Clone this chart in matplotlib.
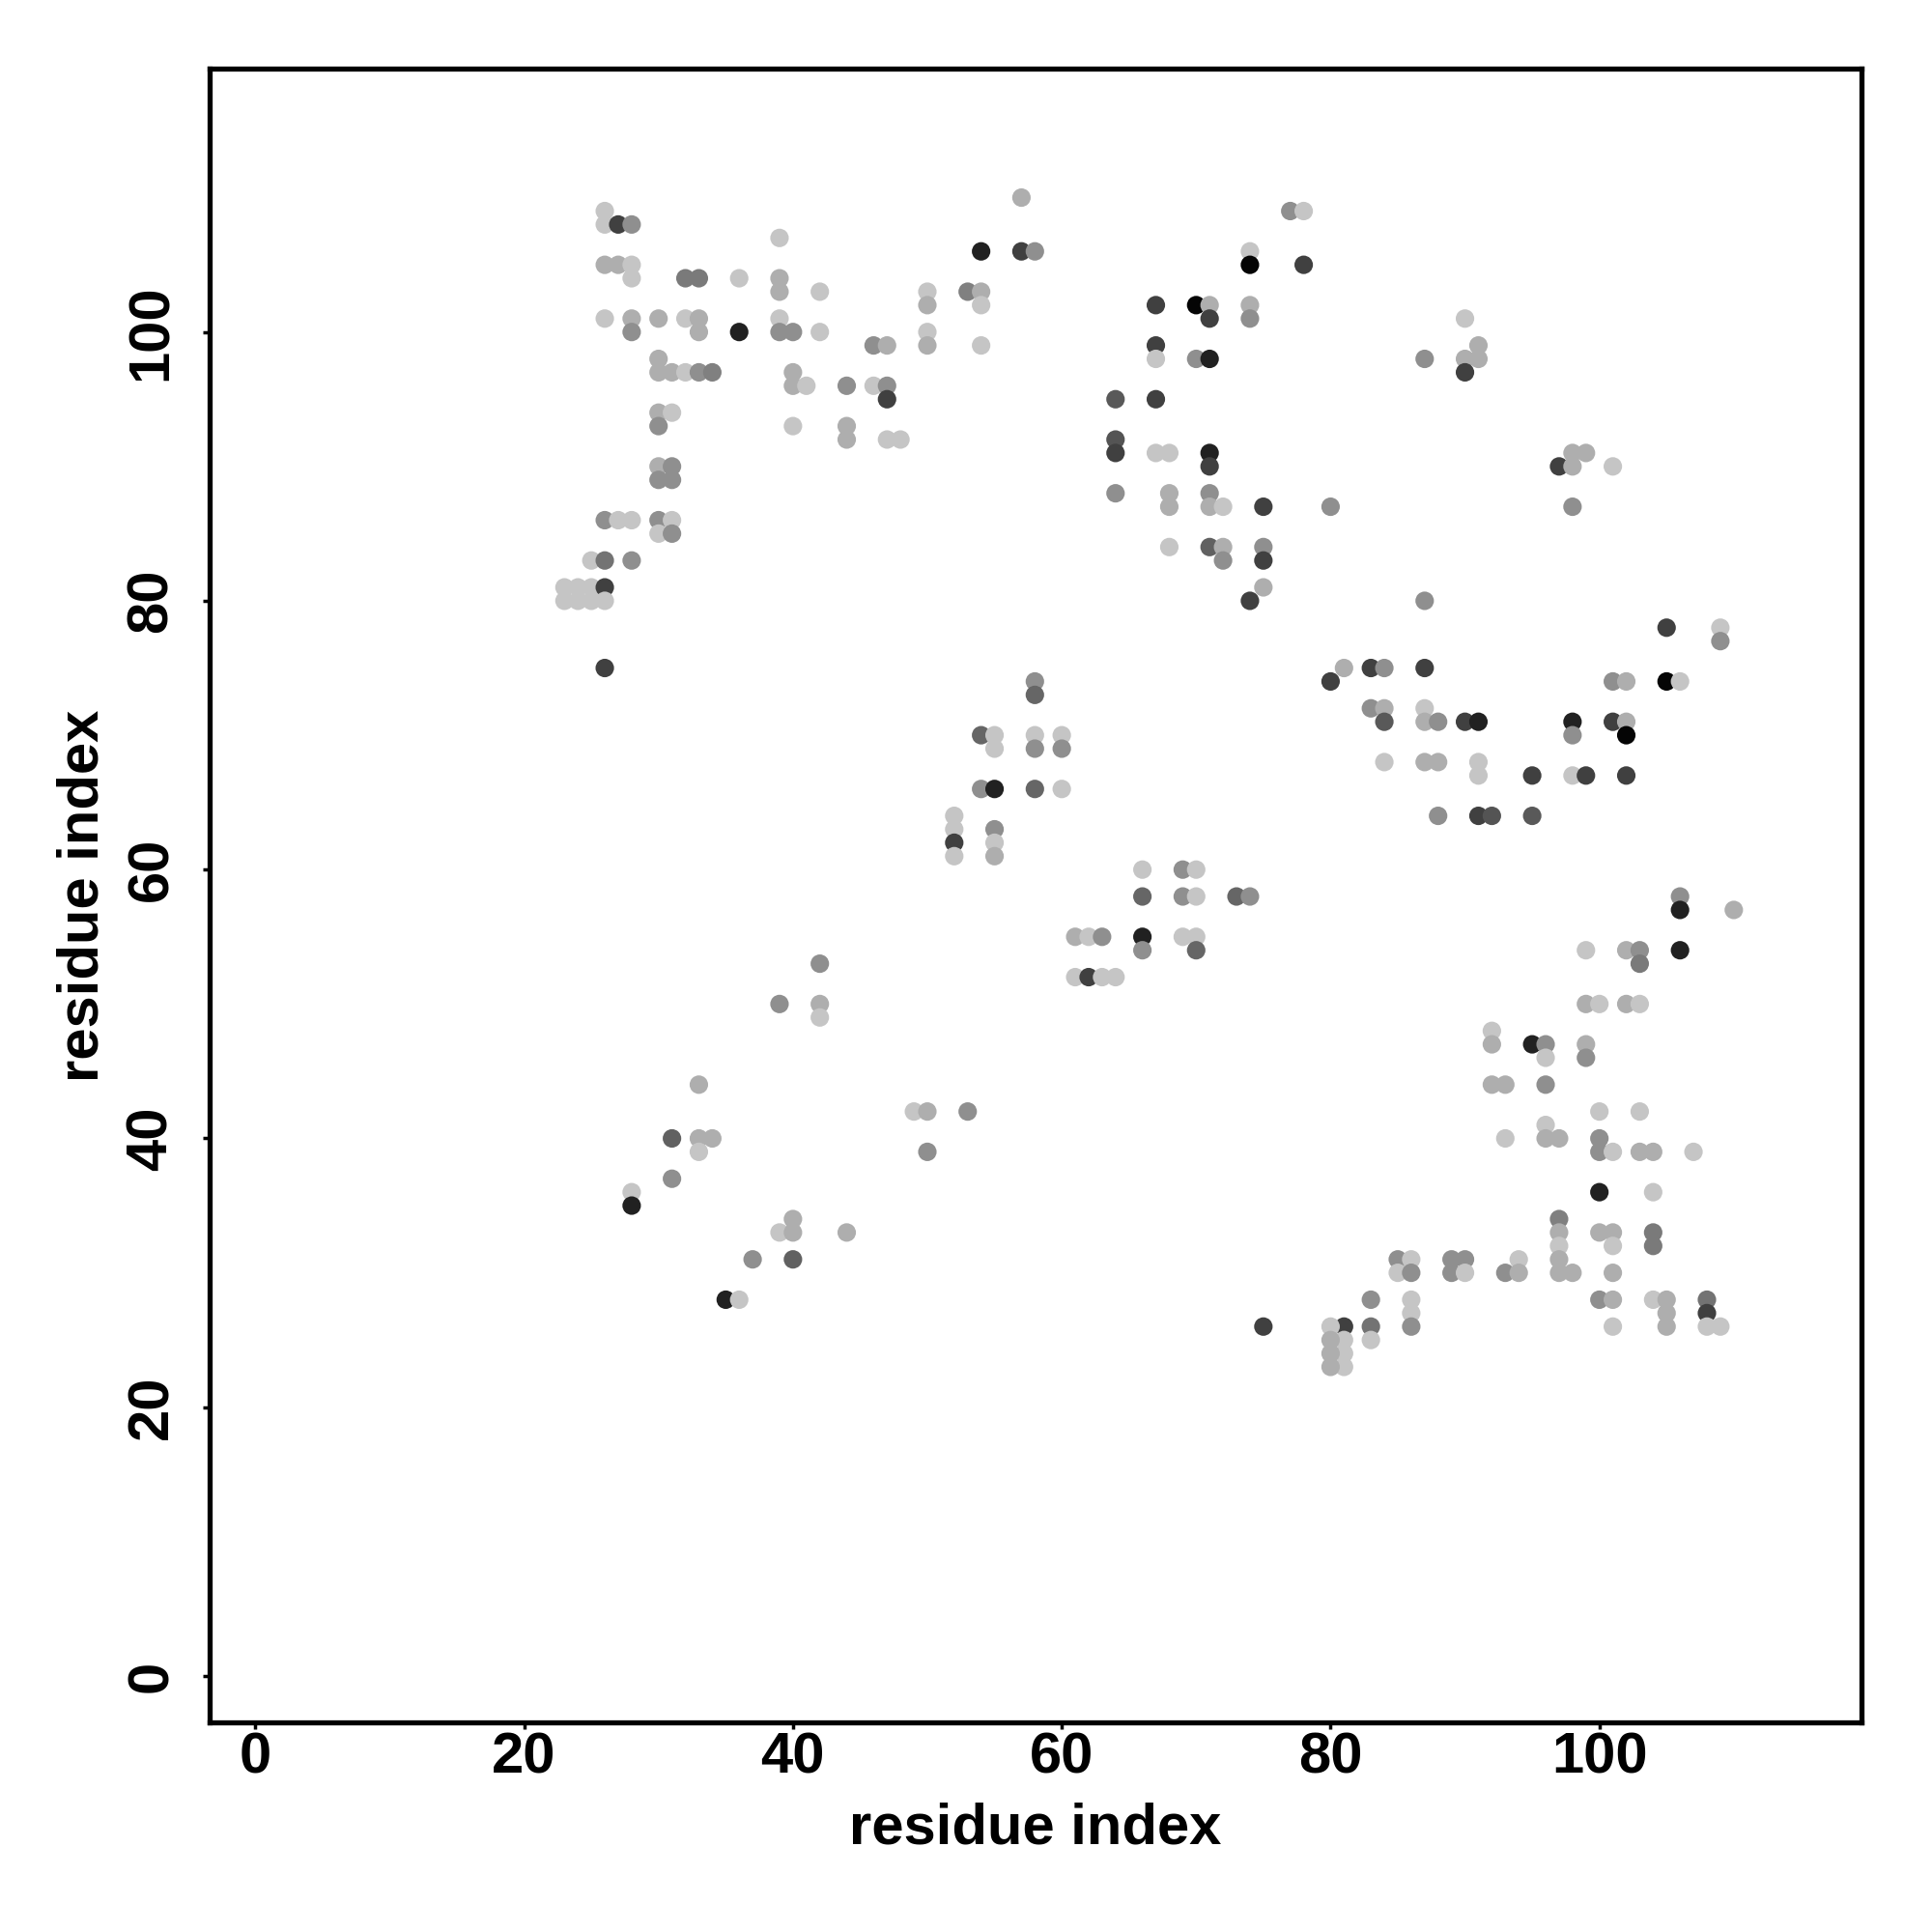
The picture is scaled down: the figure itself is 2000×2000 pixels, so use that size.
import matplotlib
matplotlib.use('Agg')
import matplotlib.pyplot as plt

# gray shades (0 = black, 1 = white)
L, ML, M, MD, D, VD, K = 0.77, 0.68, 0.56, 0.40, 0.25, 0.13, 0.02

contacts = [
    # upper left block
    (26, 109, L), (26, 108, L), (27, 108, D), (28, 108, M), (39, 107, L),
    (26, 105, ML), (27, 105, ML), (28, 105, L), (28, 104, L),
    (32, 104, 0.48), (33, 104, 0.48), (36, 104, L), (39, 104, ML), (39, 103, ML),
    (42, 103, L), (50, 103, L), (50, 102, ML),
    (26, 101, L), (28, 101, ML), (30, 101, ML), (32, 101, L), (33, 101, ML), (39, 101, L),
    (28, 100, M), (33, 100, ML), (36, 100, VD), (39, 100, M), (40, 100, M), (42, 100, L),
    (50, 100, L), (50, 99, ML), (46, 99, M), (47, 99, ML), (30, 98, ML),
    (30, 97, ML), (31, 97, ML), (32, 97, L), (33, 97, M), (34, 97, 0.5),
    (40, 97, ML), (40, 96, ML), (41, 96, L), (44, 96, M), (46, 96, L), (47, 96, M), (47, 95, D),
    (30, 94, ML), (31, 94, L), (30, 93, M), (40, 93, L), (44, 93, ML), (44, 92, ML),
    (47, 92, L), (48, 92, L),
    (30, 90, ML), (31, 90, M), (30, 89, M), (31, 89, M),
    (26, 86, M), (27, 86, L), (28, 86, L), (30, 86, M), (31, 86, L), (30, 85, L), (31, 85, M),
    (25, 83, L), (26, 83, 0.45), (28, 83, M),
    (23, 81, L), (24, 81, L), (25, 81, L), (26, 81, D),
    (23, 80, L), (24, 80, L), (25, 80, L), (26, 80, L), (26, 75, D),
    # upper middle block
    (57, 110, ML), (77, 109, M), (78, 109, L),
    (54, 106, VD), (57, 106, D), (58, 106, M), (74, 106, L), (74, 105, K), (78, 105, D),
    (53, 103, 0.5), (54, 103, ML), (54, 102, L),
    (67, 102, D), (70, 102, K), (71, 102, ML), (71, 101, D), (74, 102, ML), (74, 101, M),
    (54, 99, L), (67, 99, D), (67, 98, L), (70, 98, M), (71, 98, VD),
    (64, 95, 0.35), (67, 95, D),
    (64, 92, 0.33), (64, 91, D), (67, 91, L), (68, 91, L), (71, 91, VD), (71, 90, D),
    (64, 88, M), (68, 88, ML), (68, 87, ML), (71, 88, M), (71, 87, ML), (72, 87, L),
    (75, 87, D), (80, 87, M),
    (68, 84, L), (71, 84, 0.38), (72, 84, ML), (72, 83, M), (75, 84, M), (75, 83, D),
    (75, 81, ML), (74, 80, D),
    # upper right block
    (90, 101, L), (87, 98, M), (90, 98, ML), (91, 99, ML), (91, 98, ML), (90, 97, D),
    (98, 91, ML), (99, 91, ML), (97, 90, D), (98, 90, ML), (101, 90, L), (98, 87, M),
    # right middle block
    (87, 80, M), (105, 78, D), (109, 78, L), (109, 77, M),
    (81, 75, ML), (83, 75, D), (84, 75, M), (87, 75, D), (80, 74, D),
    (101, 74, M), (102, 74, ML), (105, 74, K), (106, 74, L),
    (83, 72, M), (84, 72, ML), (84, 71, 0.35), (87, 72, L), (87, 71, ML), (88, 71, M),
    (90, 71, D), (91, 71, VD),
    (98, 71, VD), (98, 70, M), (101, 71, D), (102, 71, ML), (102, 70, K),
    (84, 68, L), (87, 68, ML), (88, 68, ML), (91, 68, L), (91, 67, L), (95, 67, D),
    (98, 67, L), (99, 67, D), (102, 67, D),
    (88, 64, M), (91, 64, D), (92, 64, 0.33), (95, 64, 0.35),
    (106, 58, M), (106, 57, VD), (110, 57, ML),
    (99, 54, L), (102, 54, ML), (103, 54, M), (103, 53, 0.48), (106, 54, VD),
    # centre block
    (58, 74, M), (58, 73, MD),
    (54, 70, MD), (55, 70, L), (55, 69, L), (58, 70, L), (58, 69, M), (60, 70, L), (60, 69, M),
    (54, 66, M), (55, 66, VD), (58, 66, MD), (60, 66, L),
    (52, 64, L), (52, 63, L), (52, 62, D), (52, 61, L),
    (55, 63, M), (55, 62, L), (55, 61, ML),
    (66, 60, L), (69, 60, M), (70, 60, L),
    (66, 58, MD), (69, 58, M), (70, 58, L), (73, 58, MD), (74, 58, M),
    (61, 55, ML), (62, 55, L), (63, 55, M), (66, 55, VD), (66, 54, M),
    (69, 55, L), (70, 55, L), (70, 54, MD),
    (61, 52, L), (62, 52, D), (63, 52, L), (64, 52, L), (42, 53, M),
    # lower right block
    (99, 50, ML), (100, 50, L), (102, 50, ML), (103, 50, L),
    (92, 48, L), (92, 47, ML), (95, 47, VD), (96, 47, M), (96, 46, L), (99, 47, ML), (99, 46, M),
    (92, 44, ML), (93, 44, ML), (96, 44, M), (100, 42, L), (103, 42, L),
    (96, 41, L), (93, 40, L), (96, 40, ML), (97, 40, ML),
    (100, 40, M), (100, 39, M), (101, 39, L), (103, 39, ML), (104, 39, ML), (107, 39, L),
    (100, 36, VD), (104, 36, L),
    (97, 34, 0.5), (97, 33, ML), (97, 32, L), (97, 31, ML), (97, 30, ML), (98, 30, ML),
    (100, 33, ML), (101, 33, ML), (101, 32, L), (104, 33, 0.48), (104, 32, 0.48), (101, 30, ML),
    (85, 31, M), (86, 31, L), (85, 30, L), (86, 30, M),
    (89, 31, M), (90, 31, M), (89, 30, M), (90, 30, L),
    (93, 30, M), (94, 31, L), (94, 30, ML),
    (100, 28, M), (101, 28, ML), (104, 28, L), (105, 28, ML), (105, 27, ML), (105, 26, ML),
    (108, 28, 0.45), (108, 27, D), (108, 26, L), (109, 26, L), (101, 26, L),
    (83, 28, M), (83, 26, 0.45), (83, 25, L), (86, 28, L), (86, 27, L), (86, 26, M),
    (81, 26, D), (81, 25, L), (81, 24, L), (81, 23, L),
    (80, 26, L), (80, 25, ML), (80, 24, ML), (80, 23, ML),
    (75, 26, D), (53, 42, M),
    # lower left block
    (39, 50, M), (42, 50, ML), (42, 49, L), (33, 44, ML),
    (49, 42, L), (50, 42, ML), (50, 39, M),
    (31, 40, 0.38), (33, 40, ML), (34, 40, ML), (33, 39, L), (31, 37, M),
    (28, 36, L), (28, 35, VD),
    (40, 34, ML), (39, 33, L), (40, 33, ML), (44, 33, ML),
    (37, 31, M), (40, 31, 0.38), (35, 28, VD), (36, 28, L),
]

res_i = [c[0] for c in contacts]
res_j = [c[1] for c in contacts]
shade = [c[2] for c in contacts]

ticks = [0, 20, 40, 60, 80, 100]

plt.rcParams['font.family'] = ['Liberation Sans', 'DejaVu Sans']
plt.rcParams['font.weight'] = 'bold'

fig = plt.figure(figsize=(20, 20), dpi=100)
ax = fig.add_axes([0.1085, 0.1085, 0.855, 0.856])

ax.scatter(res_i, res_j, c=shade, cmap='gray', vmin=0, vmax=1, s=190, linewidths=0)

ax.set_xlim(-3.4, 119.5)
ax.set_ylim(-3.45, 119.6)
ax.set_xticks(ticks)
ax.set_yticks(ticks)
ax.tick_params(length=5, width=2.5, labelsize=43)
ax.tick_params(axis='x', pad=2)
ax.tick_params(axis='y', pad=18)
for lab in ax.get_yticklabels():
    lab.set_rotation(90)
    lab.set_va('center')
for s in ax.spines.values():
    s.set_linewidth(3.8)

ax.set_xlabel('residue index', fontsize=43, fontweight='bold', labelpad=13)
ax.set_ylabel('residue index', fontsize=43, fontweight='bold', labelpad=12)

fig.savefig('out.png', dpi=100)
